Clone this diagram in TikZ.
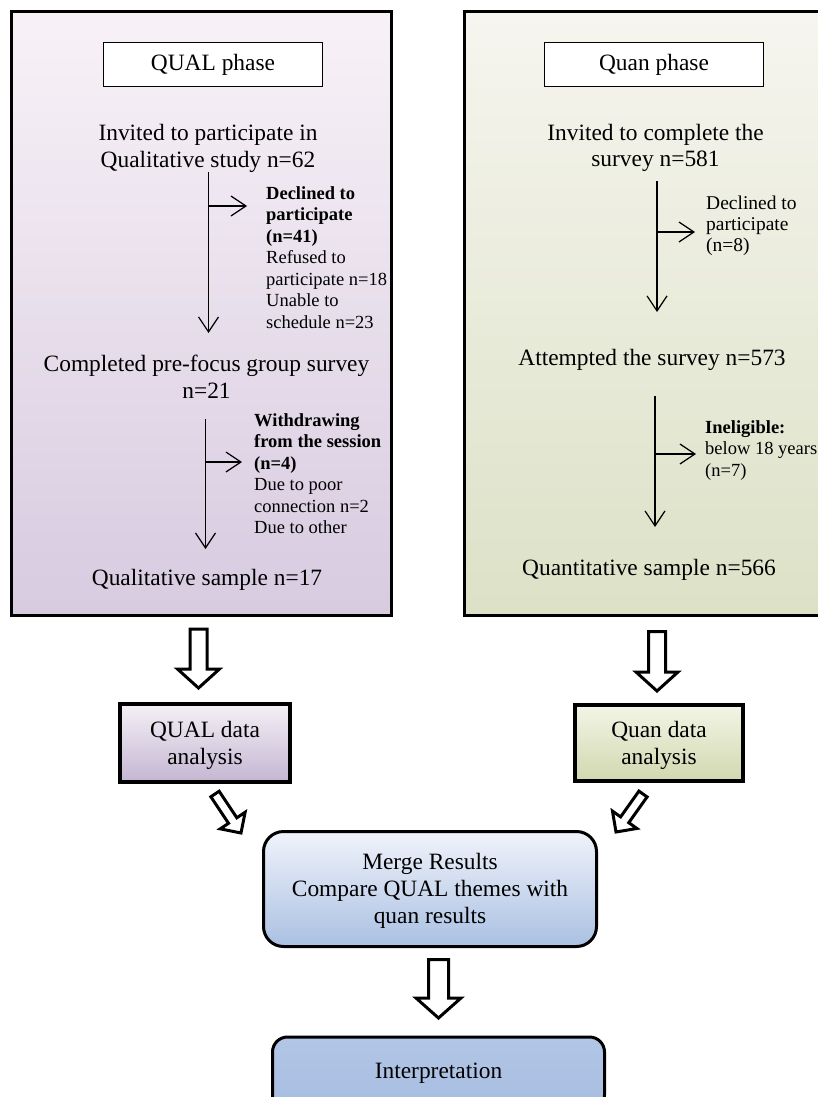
\documentclass[tikz,border=0pt]{standalone}
\usepackage{fontspec}
\setmainfont{Liberation Serif}
\usetikzlibrary{arrows.meta,calc}
\definecolor{qualtop}{HTML}{F8F2F7}
\definecolor{qualmid}{HTML}{C9BAD5}
\definecolor{qualbot}{HTML}{D7CBE0}
\definecolor{quantop}{HTML}{F6F5EF}
\definecolor{quanmid}{HTML}{D9DEBD}
\definecolor{quanbot}{HTML}{DCE1C6}
\definecolor{qanatop}{HTML}{F4F0F6}
\definecolor{qanabot}{HTML}{C4B6D2}
\definecolor{nanatop}{HTML}{F3F5E6}
\definecolor{nanabot}{HTML}{D0D8AF}
\definecolor{mergetop}{HTML}{F0F3FB}
\definecolor{mergebot}{HTML}{AAC0E2}
\definecolor{interptop}{HTML}{B2C6E6}
\definecolor{interpbot}{HTML}{A7BDE0}
\newcommand\ctext[1]{\begin{tabular}[t]{@{}c@{}}#1\end{tabular}}
\newcommand\ltext[1]{\begin{tabular}[t]{@{}l@{}}#1\end{tabular}}
\newcommand\bigfont{\fontsize{23.4}{26.5}\selectfont}
\newcommand\boxfont{\fontsize{23.4}{27}\selectfont}
\newcommand\smallfont{\fontsize{18.5}{21.5}\selectfont}
\newcommand\smallfontb{\fontsize{19.5}{21}\selectfont}
% block arrow: start, end, shaft half width, head half width, head length
\newcommand\blockarr[5]{%
  \coordinate (bah) at ($(#2)!#5!(#1)$);
  \draw[blockarrow] ($(#1)!#3!90:(#2)$) -- ($(bah)!#3!90:(#2)$) -- ($(bah)!#4!90:(#2)$)
     -- (#2) -- ($(bah)!#4!-90:(#2)$) -- ($(bah)!#3!-90:(#2)$) -- ($(#1)!#3!-90:(#2)$) -- cycle;}
\begin{document}
\begin{tikzpicture}[x=1pt,y=-1pt,
  panel/.style={draw, line width=3pt, inner sep=0pt},
  phasebox/.style={draw, line width=1pt, fill=white, minimum width=219pt, minimum height=44pt, inner sep=0pt, font=\bigfont},
  anabox/.style={draw, line width=4pt, inner sep=0pt, font=\boxfont},
  resbox/.style={draw, line width=3pt, rounded corners=20pt, inner sep=0pt, font=\boxfont},
  bigtext/.style={inner sep=0pt, font=\bigfont},
  smalltext/.style={inner sep=0pt, font=\smallfont, anchor=base west},
  flow/.style={line width=1.2pt, -{Straight Barb[length=15pt,width=20pt]}},
  blockarrow/.style={draw, line width=3pt, fill=white, line join=miter}]
\useasboundingbox (0,0) rectangle (817,1097);
\fill[white] (0,0) rectangle (817,1097);

% panels
\node[panel, minimum width=380pt, minimum height=604pt, top color=qualtop, middle color=qualmid, bottom color=qualbot] (qualpanel) at (201.5,313.5) {};
\node[panel, minimum width=367.5pt, minimum height=604pt, top color=quantop, middle color=quanmid, bottom color=quanbot] (quanpanel) at (648.25,313.5) {};

% QUAL phase
\node[phasebox] (qualphase) at (213,64.5) {QUAL phase};
\node[bigtext, anchor=base] (inv1) at (208,141) {\ctext{Invited to participate in\\Qualitative study n=62}};
\node[smalltext] (decl1) at (266,199) {\ltext{\textbf{Declined to}\\\textbf{participate}\\\textbf{(n=41)}\\Refused to\\participate n=18\\Unable to\\schedule n=23}};
\node[bigtext, anchor=base] (comp1) at (206.5,371.5) {\ctext{Completed pre-focus group survey\\n=21}};
\node[smalltext] (with1) at (254,426) {\ltext{\textbf{Withdrawing}\\\textbf{from the session}\\\textbf{(n=4)}\\Due to poor\\connection n=2\\Due to other}};
\node[bigtext, anchor=base] (samp1) at (207,585) {Qualitative sample n=17};

\coordinate (l1s) at (208.5,172);
\coordinate (l1e) at (208.5,333);
\coordinate (l1b) at (208.5,206);
\coordinate (l1t) at (247,206);
\coordinate (l2s) at (205.5,419);
\coordinate (l2e) at (205.5,549);
\coordinate (l2b) at (205.5,462);
\coordinate (l2t) at (242,462);
\draw[flow] (l1s) -- (l1e);
\draw[flow] (l1b) -- (l1t);
\draw[flow] (l2s) -- (l2e);
\draw[flow] (l2b) -- (l2t);

% Quan phase
\node[phasebox] (quanphase) at (654,64.5) {Quan phase};
\node[bigtext, anchor=base] (inv2) at (655.5,140) {\ctext{Invited to complete the\\survey n=581}};
\node[smalltext, font=\smallfontb] (decl2) at (706,209) {\ltext{Declined to\\participate\\(n=8)}};
\node[bigtext, anchor=base] (att2) at (652,365) {Attempted the survey n=573};
\node[smalltext] (inel2) at (705,433) {\ltext{\textbf{Ineligible:}\\below 18 years\\(n=7)}};
\node[bigtext, anchor=base] (samp2) at (649,575) {Quantitative sample n=566};

\coordinate (r1s) at (657,181);
\coordinate (r1e) at (657,312);
\coordinate (r1b) at (657,232);
\coordinate (r1t) at (695,232);
\coordinate (r2s) at (655,396);
\coordinate (r2e) at (655,527);
\coordinate (r2b) at (655,454);
\coordinate (r2t) at (696,454);
\draw[flow] (r1s) -- (r1e);
\draw[flow] (r1b) -- (r1t);
\draw[flow] (r2s) -- (r2e);
\draw[flow] (r2b) -- (r2t);

% analysis boxes
\node[anabox, minimum width=170pt, minimum height=78pt, top color=qanatop, bottom color=qanabot] (qualana) at (205,743) {\ctext{\rule{0pt}{24.5pt}QUAL data\\analysis}};
\node[anabox, minimum width=168pt, minimum height=76pt, top color=nanatop, bottom color=nanabot] (quanana) at (659,743) {\ctext{\rule{0pt}{24.5pt}Quan data\\analysis}};

% results
\node[resbox, minimum width=333pt, minimum height=115pt, top color=mergetop, bottom color=mergebot] (merge) at (430,889) {\ctext{\rule{0pt}{22.9pt}Merge Results\\Compare QUAL themes with\\quan results}};
\node[resbox, rounded corners=15pt, minimum width=332pt, minimum height=73pt, top color=interptop, bottom color=interpbot] (interp) at (438.5,1073.5) {Interpretation};

% block arrows
\coordinate (ba1s) at (198.5,629);
\coordinate (ba1e) at (198.5,688);
\coordinate (ba2s) at (657,631.5);
\coordinate (ba2e) at (657,691);
\coordinate (ba3s) at (215,794);
\coordinate (ba3e) at (241,833);
\coordinate (ba4s) at (643,794);
\coordinate (ba4e) at (616,832);
\coordinate (ba5s) at (438.5,959.5);
\coordinate (ba5e) at (438.5,1018);
\blockarr{ba1s}{ba1e}{8.5pt}{21pt}{19pt}
\blockarr{ba2s}{ba2e}{8.5pt}{21pt}{19pt}
\blockarr{ba3s}{ba3e}{5pt}{15pt}{15pt}
\blockarr{ba4s}{ba4e}{5pt}{15pt}{15pt}
\blockarr{ba5s}{ba5e}{10pt}{22.5pt}{20pt}
\end{tikzpicture}
\end{document}
